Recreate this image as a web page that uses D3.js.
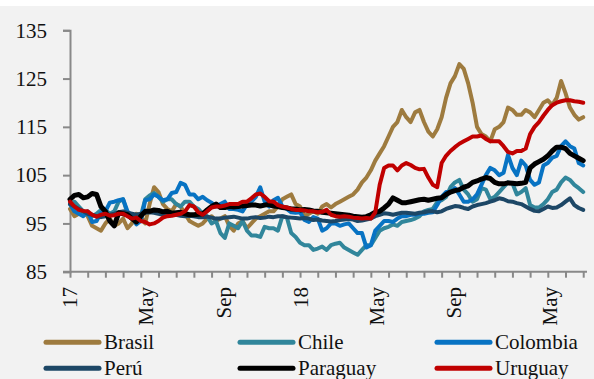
<!DOCTYPE html>
<html><head><meta charset="utf-8">
<script src="https://cdn.jsdelivr.net/npm/d3@7"></script>
<style>body{margin:0;background:#fff}svg{display:block}</style>
</head><body><svg id="c" width="594" height="379"></svg>
<script>
// ---- data (index values, one reading every 7 days from 2017-01-01) ----
const startDate = "2017-01-01";
const endDate = "2019-03-30";
const stepDays = 7;
const seriesNames = ["Brasil", "Chile", "Colombia", "Perú", "Paraguay", "Uruguay"];
const brasil = [98,96.5,97,97.5,96.5,94.5,94,93.5,95,96,94.5,95,96,94,95,97,96.5,95,99,102.5,101.5,99,98,97.5,99,98.5,97,95.5,95,94.5,95,96,96.5,95.5,96,96.5,94.5,93.5,95,95.5,94,95,96,96.5,97,97.5,97.5,98.5,100,100.5,101,99,98.5,96.5,97,97.5,97,98.5,99,98.3,99,99.5,100,100.5,101,102,103.5,104.5,106,108,109.5,111,113,115,116,118.5,117,116,118,118.5,116,114,113,114.5,117,121,124,125.5,128,127,124,120,115,113.5,113,112,114.5,115,116,119,118.5,117.5,117.5,118.5,118,117,118.5,120,120.5,119.5,121,124.5,122,119,117.5,116.5,117];
const chile = [99,99.5,98.5,97.5,96.8,96.5,97,97.8,97.8,97,97.5,99.5,100,97,96,95.5,96.5,100,100.8,101.3,100.5,99.5,100,100,99,98.5,99.5,99.5,98.5,98,97,96.5,95,95.5,93,92,95,94.5,94,95.5,93.5,92.5,92.5,92.2,94.3,94,94,93.5,96.5,96.3,93,92.2,91,90.5,90.5,89.5,89.8,90.2,89.5,90.5,90.8,91,90,89.5,89,88.5,89.5,90.5,90.5,92,93.5,94,94.3,94.8,94.5,95.3,95.5,95.7,96,96.5,97.5,97.8,98,99.4,99.8,100.5,102.5,103.5,104,102,101,99.5,100,102.3,102,100,100.5,101.5,102.5,103.5,103.3,101,101.5,102.3,98.8,98.3,98.3,99,100,101.5,102,103.5,104.5,104,103,102.3,101.5];
const colombia = [99,97.5,97,96.5,97.5,95.3,95.5,97.2,97.5,99.3,99.5,99.8,100,97.5,96.5,94.8,95.5,99.8,100,101,100.5,99.8,100,101.3,101.5,103.4,103,101,101,100,100.5,99.8,99.3,98.5,99,99.5,98,98,97.8,97.5,99,99.5,100.5,102.5,99.5,98.5,99.8,100.3,98.5,98,97.3,97.2,97.3,95.7,95.3,96.3,96,93.5,94,95,95,94.5,94.8,95,94,93,93,90,90.5,93.5,94.5,95.5,95.5,95.3,96,96.5,96.5,96.8,96.8,97,97,97.2,97.3,98.8,100.5,101.5,101.5,102.3,101,99.5,99.5,100,101,103,105,106.5,106,105,105.5,109.2,106.5,105,108,107,104,103,103.5,107,107.5,108.6,109,111,112,111,110.5,107.5,107];
const peru = [99,98.5,98,97.5,97,96.8,96.5,96.3,96.5,96.8,97,97.3,97.5,97.2,97,96.8,97,97.2,97.3,97.2,97,96.8,97,97.2,96.8,96.6,96.5,96.6,96.5,96.3,96.3,96.4,96.2,96,96,96.2,96.3,96.4,96.2,96,96,96.2,96.3,96.1,96.2,96.4,96.3,96.5,96.5,96.3,96.2,96.1,96,96.1,96,95.7,95.8,95.6,95.5,95.4,95.5,95.7,95.8,95.9,95.8,95.5,95.6,95.8,96,96.5,96.8,97.1,97,96.8,97,97.2,97.2,97.1,97,97.2,97.3,97.5,97.5,97.3,97.5,98,98.3,98.6,98.5,98.2,98,98.5,98.8,99,99.2,99.5,99.8,100.2,100,99.6,99.5,99.2,99,98.5,98,97.6,97.5,98,98.5,98.2,98.3,98.8,99.5,100.2,98.8,98.2,97.8];
const paraguay = [100,100.8,101,100.3,100.5,101.2,101,98.5,97.5,95.5,94.5,97.2,97,96.8,96,95.3,96.5,97.5,97.5,97.8,97.7,97.4,97.5,97.1,97.2,97.3,97,96.8,96.8,96.9,97,97.8,98.5,99,98.3,98.3,98.5,98.4,98.5,98.6,98.7,98.8,98.8,98.6,98.8,98.9,98.6,98.5,98.3,98.2,98,98,97.8,97.9,97.8,97.6,97.5,97.3,97.2,97.1,97,96.9,96.8,96.7,96.5,96.4,96.3,96.4,96.8,97.3,97.5,98.2,99,100.3,99.8,99.3,99.3,99.5,99.7,99.9,100,99.8,100,100.2,100.3,101,101.5,101.8,102,102.5,102.8,103.5,103.8,104.2,104.5,104.3,103.5,103.2,103.2,103.4,103.3,103.2,103.3,103.5,106.5,107.3,107.8,108.3,109,110,110.8,110.8,110.5,109.5,109,108.5,108];
const uruguay = [99.5,98.5,97.8,97.6,97.5,96.8,96.4,96.8,97,96.6,96.7,97,97,96.5,96,96.2,95.5,95.3,94.8,95,95.5,96.2,96.5,96.6,96.8,97,97.5,98.8,98.5,97.3,96.8,97.5,98.3,98.5,98.5,98.7,99,99,99,99.5,99.5,100.2,101,101.2,100.5,99.6,99.5,98.8,98.5,98.3,98,97.8,97.8,97.7,97.5,97.5,97.3,97.4,97.8,96.8,96.5,96.4,96.5,96.4,96.2,96.1,96,96.1,96,97.3,103,106.5,107,107,106,107,107.5,107.1,106.5,106.2,106.3,104.5,103,102.5,107.5,109,110,110.8,111.5,112,112.5,113,113,113.2,112.5,112,112,112,111,109.8,109.5,110,110,110.5,113.5,115,116,117.3,118.5,119.5,120,120.3,120.5,120.5,120.3,120.2,120];
const yTicks = [85, 95, 105, 115, 125, 135];
const xLabelDates = ["2017-01-01", "2017-05-01", "2017-09-01", "2018-01-01", "2018-05-01", "2018-09-01", "2019-01-31"];
const xLabelTexts = ["17", "May", "Sep", "18", "May", "Sep", "May"];
const tickEveryDays = 28;

// ---- styling ----
const colors = ["#9e7b3f", "#31869b", "#0873c3", "#1d4766", "#000000", "#c00000"];
const widths = [4, 4, 4, 4, 5, 4];
const font = "'Liberation Serif', 'Times New Roman', serif";

const seriesValues = [brasil, chile, colombia, peru, paraguay, uruguay];
const parse = d3.timeParse("%Y-%m-%d");
const t0 = parse(startDate);
const t1 = parse(endDate);

const svg = d3.select("#c");
svg.append("rect").attr("x", 0).attr("y", 6).attr("width", 594).attr("height", 373).attr("fill", "#f2f2f2");

const x = d3.scaleTime().domain([t0, t1]).range([70, 587]);
const y = d3.scaleLinear().domain([85, 135]).range([271.7, 30.3]);

// y axis
const yAxis = d3.axisLeft(y).tickValues(yTicks).tickSize(7).tickPadding(16).tickFormat(d3.format("d"));
const gy = svg.append("g").attr("transform", "translate(70,0)").call(yAxis);
gy.select(".domain").attr("stroke", "#898989").attr("stroke-width", 2);
gy.selectAll(".tick line").attr("stroke", "#898989").attr("stroke-width", 2);
gy.selectAll(".tick text").attr("font-family", font).attr("font-size", 21).attr("fill", "#111");

// x axis
const tickDates = d3.timeDay.range(t0, d3.timeDay.offset(t1, 1), tickEveryDays);
const xAxis = d3.axisBottom(x).tickValues(tickDates).tickSize(6).tickSizeOuter(0).tickFormat("");
const gx = svg.append("g").attr("transform", "translate(0,271.7)").call(xAxis);
gx.select(".domain").attr("stroke", "#898989").attr("stroke-width", 2).attr("d", "M63,0H587");
gx.selectAll(".tick line").attr("stroke", "#898989").attr("stroke-width", 2);

svg.append("g").selectAll("text").data(xLabelDates).join("text")
  .attr("transform", d => `translate(${x(parse(d))},287) rotate(-90)`)
  .attr("text-anchor", "end").attr("dy", "0.34em")
  .attr("font-family", font).attr("font-size", 21).attr("fill", "#111")
  .text((d, i) => xLabelTexts[i]);

// lines
const line = d3.line()
  .x((d, i) => x(d3.timeDay.offset(t0, i * stepDays)))
  .y(d => y(d))
  .curve(d3.curveLinear);

svg.append("g").selectAll("path").data(seriesValues).join("path")
  .attr("d", d => line(d))
  .attr("fill", "none")
  .attr("stroke", (d, i) => colors[i])
  .attr("stroke-width", (d, i) => widths[i])
  .attr("stroke-linejoin", "round").attr("stroke-linecap", "round");

// legend
const legCols = [46, 240, 437];
const legRows = [342.3, 368.3];
const lg = svg.append("g").selectAll("g").data(seriesNames).join("g")
  .attr("transform", (d, i) => `translate(${legCols[i % 3]},${legRows[Math.floor(i / 3)]})`);
lg.append("line").attr("x1", 0).attr("x2", 53).attr("y1", 0).attr("y2", 0)
  .attr("stroke", (d, i) => colors[i]).attr("stroke-width", 5).attr("stroke-linecap", "round");
lg.append("text").attr("x", 58).attr("dy", "0.33em")
  .attr("font-family", font).attr("font-size", 21).attr("fill", "#111")
  .text(d => d);
</script></body></html>
